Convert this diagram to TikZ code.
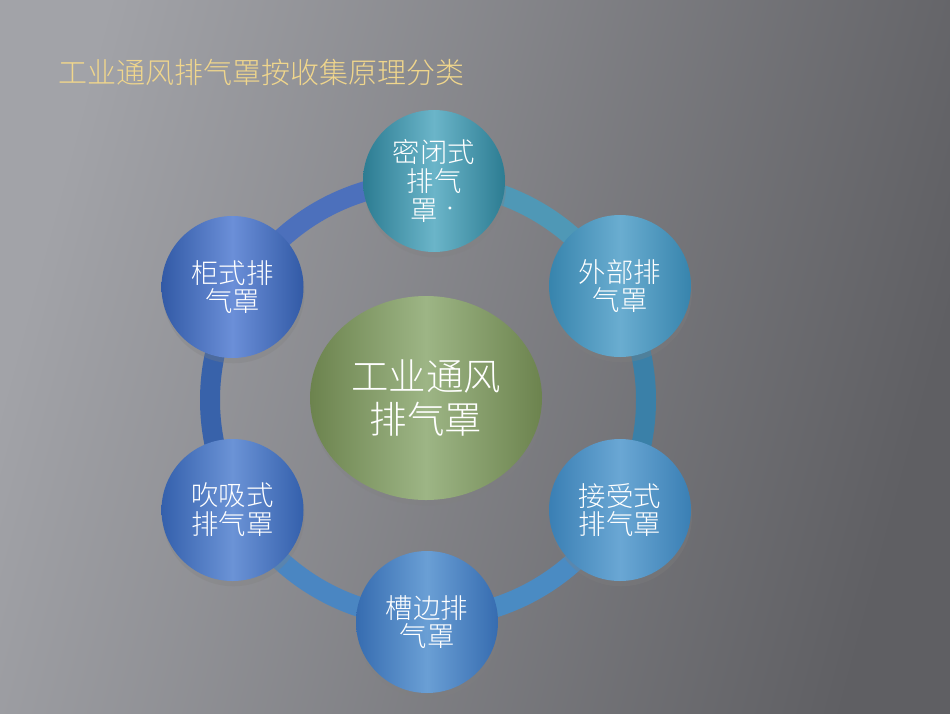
\documentclass[tikz,border=0pt]{standalone}
\usepackage{fontspec}
\setmainfont{Noto Sans CJK SC}[UprightFont=* Light]
\usetikzlibrary{shapes.geometric,shadows}

\definecolor{bghi}{HTML}{A2A3A8}
\definecolor{bgmid}{HTML}{77787C}
\definecolor{bglo}{HTML}{5F5F63}
\definecolor{titlegold}{RGB}{240,214,140}

\definecolor{ringa}{HTML}{4F98B6}
\definecolor{ringb}{HTML}{3A80A8}
\definecolor{ringc}{HTML}{4A8BC3}
\definecolor{ringd}{HTML}{4A86C2}
\definecolor{ringe}{HTML}{3862AA}
\definecolor{ringf}{HTML}{4C70BC}

\definecolor{hubedge}{RGB}{108,131,78}
\definecolor{hubmid}{RGB}{157,181,133}
\definecolor{closededge}{RGB}{44,124,146}
\definecolor{closedmid}{RGB}{107,181,201}
\definecolor{outeredge}{RGB}{55,132,173}
\definecolor{outermid}{RGB}{106,173,208}
\definecolor{recvedge}{RGB}{58,127,180}
\definecolor{recvmid}{RGB}{106,167,212}
\definecolor{slotedge}{RGB}{54,108,176}
\definecolor{slotmid}{RGB}{106,159,213}
\definecolor{pushedge}{RGB}{52,96,172}
\definecolor{pushmid}{RGB}{107,147,214}
\definecolor{cabedge}{RGB}{50,90,166}
\definecolor{cabmid}{RGB}{107,143,216}

\begin{document}
\begin{tikzpicture}[
  hood/.style={circle,minimum size=2.84cm,inner sep=0pt,align=center,text=white,
    font=\fontsize{15.6}{16.4}\selectfont,
    drop shadow={shadow xshift=0.6pt,shadow yshift=-3pt,opacity=0.3},
    left color=#1edge,right color=#1edge,middle color=#1mid},
  ring/.style={line width=0.4cm}
]

  \useasboundingbox (0,0) rectangle (19,-14.26);
  \shade[top color=bghi,middle color=bgmid,bottom color=bglo,shading angle=75]
    (0,0) rectangle (19,-14.26);

  \node (title) at (1.04,-1.44) [anchor=west,text=titlegold,
    font=\fontsize{16.5}{19}\selectfont]{工业通风排气罩按收集原理分类};

  % ring behind the circles
  \coordinate (ringc) at (8.56,-8.0);
  \foreach \a/\b/\c in {90/30/ringa,30/-30/ringb,-30/-90/ringc,
                        -90/-150/ringd,-150/-210/ringe,150/90/ringf}
    \draw[ring,\c] (ringc) ++(\a:4.36) arc[start angle=\a,end angle=\b,radius=4.36];

  \node (hub) at (8.52,-7.96) [ellipse,minimum width=4.64cm,minimum height=4.08cm,
    inner sep=0pt,align=center,text=white,font=\fontsize{21.3}{24.4}\selectfont,
    drop shadow={shadow xshift=0.6pt,shadow yshift=-3pt,opacity=0.3},
    left color=hubedge,right color=hubedge,middle color=hubmid]{工业通风\\排气罩};

  \node (closed) at (8.68,-3.62) [hood=closed]{密闭式\\排气\\罩\,\raisebox{0.22em}{\fontsize{9}{9}\selectfont ·}};
  \node (outer) at (12.40,-5.72) [hood=outer]{外部排\\气罩};
  \node (recv) at (12.40,-10.20) [hood=recv]{接受式\\排气罩};
  \node (slot) at (8.54,-12.44) [hood=slot]{槽边排\\气罩};
  \node (push) at (4.65,-10.20) [hood=push]{吹吸式\\排气罩};
  \node (cab) at (4.65,-5.74) [hood=cab]{柜式排\\气罩};

\end{tikzpicture}
\end{document}
